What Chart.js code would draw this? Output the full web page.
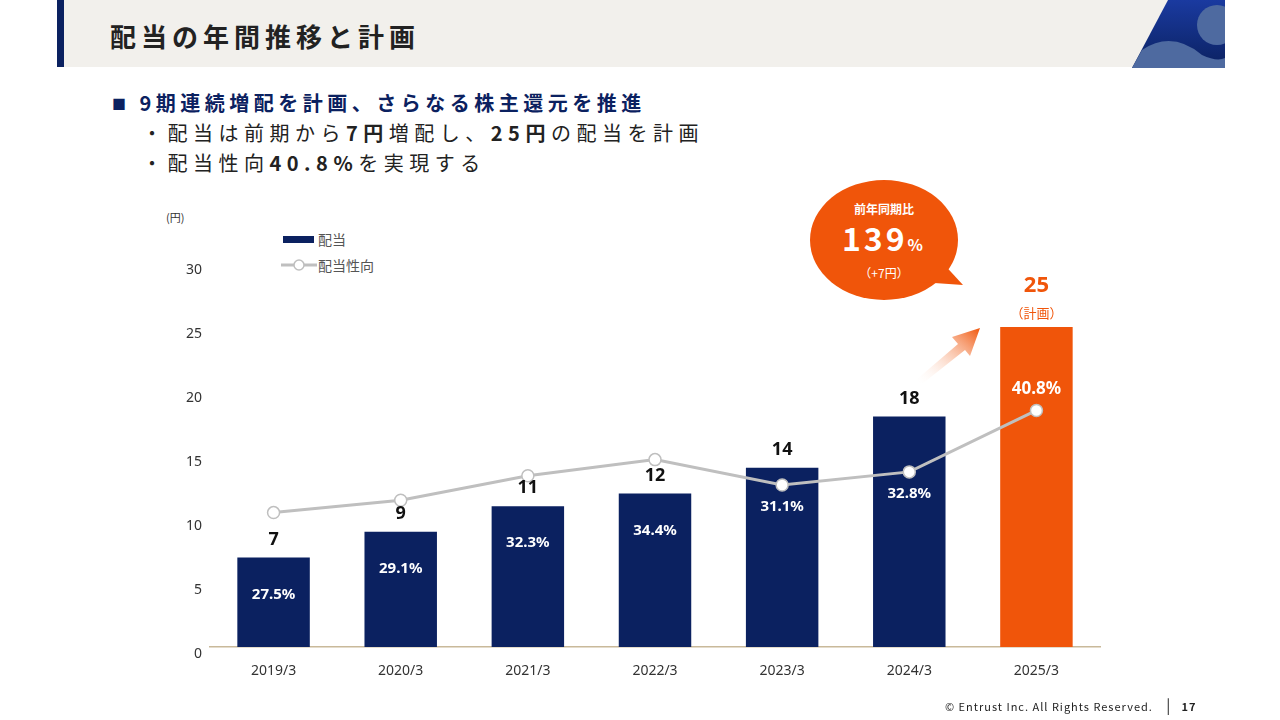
<!DOCTYPE html>
<html><head><meta charset="utf-8">
<script src="https://cdn.jsdelivr.net/npm/chart.js@4.4.0/dist/chart.umd.min.js"></script>
<style>
body{margin:0;width:1280px;height:720px;position:relative;background:#fff;font-family:"Noto Sans CJK JP","Noto Sans",sans-serif;overflow:hidden;color:#222}
.abs{position:absolute}
#hdr{left:57px;top:0;width:1168px;height:67px;background:#f2f0ec}
#stripe{left:57px;top:0;width:7px;height:67px;background:#0b2160}
#title{left:110px;top:17px;font-size:26px;font-weight:bold;letter-spacing:5px;color:#222}
.b1{left:112px;top:88px;font-size:20px;font-weight:bold;color:#0b2160;letter-spacing:4.5px}
.b2{font-size:20px;letter-spacing:5.5px;color:#222;white-space:nowrap}
#c{left:0;top:0}
.leg{font-size:14px;color:#555}
#foot{left:945px;top:694px;font-size:11px;letter-spacing:1px;color:#222}
</style></head><body>
<div id="hdr" class="abs"></div><div id="stripe" class="abs"></div>
<svg class="abs" style="left:1132px;top:0" width="93" height="68">
<defs><linearGradient id="gb" x1="0" y1="0" x2="0" y2="1"><stop offset="0" stop-color="#1a3aa0"/><stop offset="1" stop-color="#0b2160"/></linearGradient>
<linearGradient id="ga" x1="0" y1="1" x2="1" y2="0"><stop offset="0" stop-color="#fff" stop-opacity="0"/><stop offset="1" stop-color="#f0550a"/></linearGradient></defs>
<polygon points="36,0 93,0 93,68 0,68" fill="url(#gb)"/>
<path d="M10,50 Q40,30 70,55 Q85,62 93,58 L93,68 L0,68 Z" fill="#4e6aa0"/>
<circle cx="85" cy="25" r="20" fill="#4e6aa0"/>
</svg>
<div id="title" class="abs">配当の年間推移と計画</div>
<div class="abs b1"><span style="font-size:14px;vertical-align:2px">■</span>&nbsp;9期連続増配を計画、さらなる株主還元を推進</div>
<div class="abs b2" style="left:142px;top:118px">・配当は前期から<b>7円</b>増配し、<b>25円</b>の配当を計画</div>
<div class="abs b2" style="left:142px;top:148px">・配当性向<b>40.8%</b>を実現する</div>
<div class="abs" style="left:166px;top:209px;font-size:11px;color:#333">(円)</div>
<div class="abs" style="left:283px;top:236px;width:31px;height:7px;background:#0b2160"></div>
<div class="abs leg" style="left:318px;top:229px">配当</div>
<svg class="abs" style="left:281px;top:258px" width="36" height="14"><line x1="0" y1="7" x2="36" y2="7" stroke="#bfbfbf" stroke-width="3"/><circle cx="18" cy="7" r="5" fill="#fff" stroke="#bfbfbf" stroke-width="1.5"/></svg>
<div class="abs leg" style="left:318px;top:255px">配当性向</div>
<svg class="abs" style="left:800px;top:170px" width="180" height="135">
<ellipse cx="84" cy="70" rx="74" ry="60" fill="#f0550a"/>
<polygon points="140,90 163,115 120,112" fill="#f0550a"/>
</svg>
<div class="abs" style="left:810px;top:200px;width:148px;text-align:center;color:#fff">
<div style="font-size:12px;font-weight:bold">前年同期比</div>
<div style="font-size:32px;font-weight:bold;line-height:40px;letter-spacing:3px">139<span style="font-size:16px">%</span></div>
<div style="font-size:12px">（+7円）</div></div>
<svg class="abs" style="left:910px;top:322px" width="75" height="62">
<polygon points="6,58 48,22 42,15 70,6 60,34 55,28 12,62" fill="url(#ga)"/>
</svg>
<canvas id="c" class="abs" width="1280" height="720"></canvas>
<div id="foot" class="abs">© Entrust Inc. All Rights Reserved. <span style="margin:0 10px;font-size:15px">|</span><b>17</b></div>
<script>
var years = ["2019/3","2020/3","2021/3","2022/3","2023/3","2024/3","2025/3"];
var dividend = [7, 9, 11, 12, 14, 18, 25];
var payoutRatio = [27.5, 29.1, 32.3, 34.4, 31.1, 32.8, 40.8];
var yTicks = [0, 5, 10, 15, 20, 25, 30];

var navy = "#0b2160", orange = "#f0550a";
var barColors = dividend.map(function(v, i){ return i == dividend.length - 1 ? orange : navy; });

var labelPlugin = {
  id: "labels",
  afterDatasetsDraw: function(chart) {
    var ctx = chart.ctx;
    var bars = chart.getDatasetMeta(1).data;
    var pts = chart.getDatasetMeta(0).data;
    ctx.save();
    ctx.textAlign = "center";
    ctx.textBaseline = "middle";
    for (var i = 0; i < bars.length; i++) {
      var last = i == bars.length - 1;
      var b = bars[i], p = pts[i];
      if (last) {
        ctx.fillStyle = orange;
        ctx.font = "bold 22px 'Noto Sans', sans-serif";
        ctx.fillText(dividend[i], b.x, b.y - 41);
        ctx.font = "13px 'Noto Sans CJK JP'";
        ctx.fillText("（計画）", b.x, b.y - 14);
        ctx.fillStyle = "#fff";
        ctx.font = "bold 17px 'Noto Sans', sans-serif";
        ctx.fillText(payoutRatio[i].toFixed(1) + "%", b.x, p.y - 21);
      } else {
        ctx.fillStyle = "#111";
        ctx.font = "bold 18px 'Noto Sans', sans-serif";
        ctx.fillText(dividend[i], b.x, b.y - 18);
        ctx.fillStyle = "#fff";
        ctx.font = "bold 15px 'Noto Sans', sans-serif";
        ctx.fillText(payoutRatio[i].toFixed(1) + "%", b.x, Math.max(b.y + 37, p.y + 22));
      }
    }
    ctx.restore();
  }
};

new Chart(document.getElementById("c"), {
  data: {
    labels: years,
    datasets: [
      { type: "line", data: payoutRatio, yAxisID: "y1", borderColor: "#bfbfbf", borderWidth: 3,
        pointBackgroundColor: "#fff", pointBorderColor: "#bfbfbf", pointBorderWidth: 1.5, pointRadius: 6, order: 0 },
      { type: "bar", data: dividend, backgroundColor: barColors, barPercentage: 0.57, categoryPercentage: 1, order: 1 }
    ]
  },
  options: {
    responsive: false, animation: false,
    layout: { padding: { left: 150, right: 180, top: 263, bottom: 40 } },
    plugins: { legend: { display: false }, tooltip: { enabled: false } },
    scales: {
      x: { grid: { display: false }, border: { color: "#c9b99a", width: 1.5 },
           ticks: { color: "#333", font: { size: 14, family: "'Noto Sans', sans-serif" }, padding: 8 },
           afterFit: function(s){ s.height = 33; } },
      y: { min: 0, max: 30, grid: { display: false }, border: { display: false },
           afterBuildTicks: function(s){ s.ticks = yTicks.map(function(v){ return { value: v }; }); },
           ticks: { color: "#333", font: { size: 14, family: "'Noto Sans', sans-serif" }, align: "start", padding: 0 },
           afterFit: function(s){ s.width = 60; } },
      y1: { display: false, min: 10, max: 60 }
    }
  },
  plugins: [labelPlugin]
});
</script>
</body></html>
